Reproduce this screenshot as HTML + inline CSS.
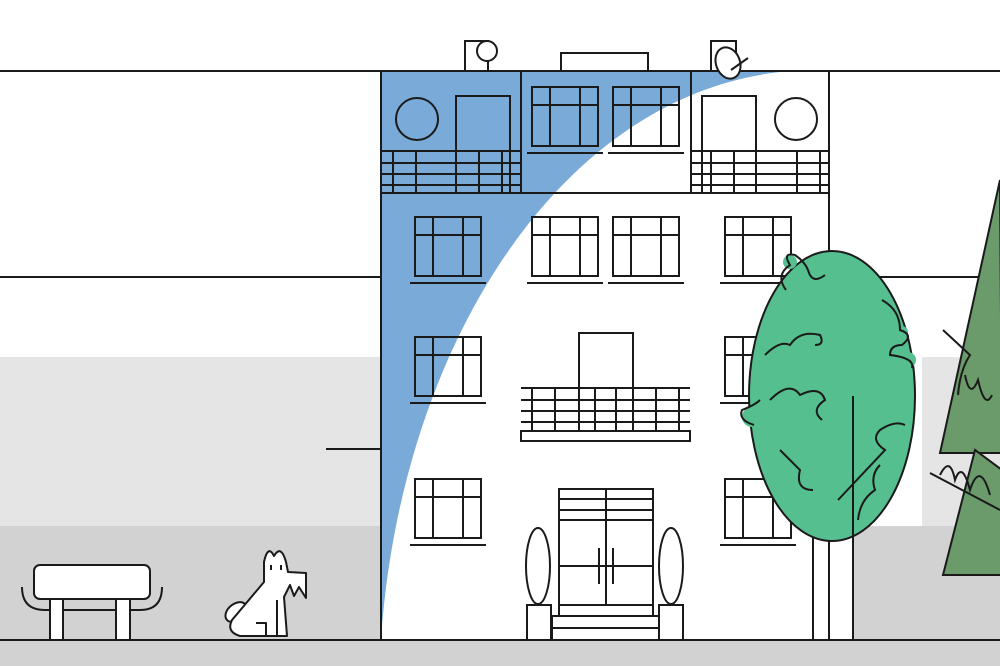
<!DOCTYPE html>
<html><head><meta charset="utf-8"><style>html,body{margin:0;padding:0;background:#fff}svg{display:block}</style></head>
<body>
<svg width="1000" height="666" viewBox="0 0 1000 666" xmlns="http://www.w3.org/2000/svg">
<rect width="1000" height="666" fill="#fff"/>
<rect x="0" y="357" width="381" height="169" fill="#e5e5e5"/>
<rect x="0" y="526" width="381" height="114" fill="#d2d2d2"/>
<rect x="922" y="357" width="78" height="169" fill="#e5e5e5"/>
<rect x="853" y="526" width="147" height="114" fill="#d2d2d2"/>
<rect x="0" y="640" width="1000" height="26" fill="#d2d2d2"/>
<g stroke="#1a1a1a" stroke-width="2" fill="none">
<line x1="0" y1="71" x2="1000" y2="71"/>
<line x1="0" y1="277" x2="381" y2="277"/>
<line x1="829" y1="277" x2="1000" y2="277"/>
<line x1="326" y1="449" x2="381" y2="449"/>
<line x1="0" y1="640" x2="1000" y2="640"/>
</g>
<rect x="381" y="71" width="448" height="569" fill="#fff"/>
<path d="M381,71 L790,71 C560,90 400,350 381,640 Z" fill="#7aaad8"/>
<g stroke="#1a1a1a" stroke-width="2" fill="none">
<rect x="381" y="71" width="448" height="569"/>
<line x1="381" y1="193" x2="829" y2="193"/>
<line x1="521" y1="71" x2="521" y2="193"/>
<line x1="691" y1="71" x2="691" y2="193"/>
<rect x="465" y="41" width="23" height="30"/>
<circle cx="487" cy="51" r="10" fill="#fff"/>
<line x1="488" y1="61" x2="488" y2="71"/>
<rect x="561" y="53" width="87" height="18"/>
<rect x="711" y="41" width="25" height="30"/>
<ellipse cx="728" cy="63" rx="12" ry="16" transform="rotate(-20 728 63)" fill="#fff"/>
<line x1="731" y1="70" x2="748" y2="58"/>
<circle cx="417" cy="119" r="21"/>
<rect x="456" y="96" width="54" height="97"/>
<line x1="381" y1="151" x2="521" y2="151"/><line x1="381" y1="163" x2="521" y2="163"/>
<line x1="381" y1="174" x2="521" y2="174"/><line x1="381" y1="185" x2="521" y2="185"/>
<line x1="393" y1="151" x2="393" y2="193"/><line x1="416" y1="151" x2="416" y2="193"/>
<line x1="479" y1="151" x2="479" y2="193"/><line x1="502" y1="151" x2="502" y2="193"/>
<rect x="702" y="96" width="54" height="97"/>
<circle cx="796" cy="119" r="21"/>
<line x1="691" y1="151" x2="829" y2="151"/><line x1="691" y1="163" x2="829" y2="163"/>
<line x1="691" y1="174" x2="829" y2="174"/><line x1="691" y1="185" x2="829" y2="185"/>
<line x1="702" y1="151" x2="702" y2="193"/><line x1="711" y1="151" x2="711" y2="193"/>
<line x1="734" y1="151" x2="734" y2="193"/><line x1="797" y1="151" x2="797" y2="193"/>
<line x1="820" y1="151" x2="820" y2="193"/>
</g>
<defs>
<g id="win" stroke="#1a1a1a" stroke-width="2" fill="none">
<rect x="0" y="0" width="66" height="59"/>
<line x1="18" y1="0" x2="18" y2="59"/><line x1="48" y1="0" x2="48" y2="59"/>
<line x1="0" y1="18" x2="66" y2="18"/>
<line x1="-5" y1="66" x2="71" y2="66"/>
</g>
</defs>
<use href="#win" x="532" y="87"/><use href="#win" x="613" y="87"/>
<use href="#win" x="415" y="217"/><use href="#win" x="532" y="217"/><use href="#win" x="613" y="217"/><use href="#win" x="725" y="217"/>
<use href="#win" x="415" y="337"/><use href="#win" x="725" y="337"/>
<use href="#win" x="415" y="479"/><use href="#win" x="725" y="479"/>
<g stroke="#1a1a1a" stroke-width="2" fill="none">
<rect x="579" y="333" width="54" height="55"/>
<line x1="521" y1="388" x2="690" y2="388"/>
<line x1="532" y1="388" x2="532" y2="431"/><line x1="555" y1="388" x2="555" y2="431"/>
<line x1="579" y1="388" x2="579" y2="431"/><line x1="595" y1="388" x2="595" y2="431"/>
<line x1="616" y1="388" x2="616" y2="431"/><line x1="633" y1="388" x2="633" y2="431"/>
<line x1="656" y1="388" x2="656" y2="431"/><line x1="679" y1="388" x2="679" y2="431"/>
<line x1="521" y1="400" x2="690" y2="400"/><line x1="521" y1="411" x2="690" y2="411"/><line x1="521" y1="422" x2="690" y2="422"/>
<rect x="521" y="431" width="169" height="10" fill="#fff"/>
<rect x="559" y="489" width="94" height="127"/>
<line x1="559" y1="499" x2="653" y2="499"/><line x1="559" y1="510" x2="653" y2="510"/><line x1="559" y1="520" x2="653" y2="520"/>
<line x1="606" y1="489" x2="606" y2="605"/>
<line x1="559" y1="566" x2="653" y2="566"/>
<line x1="559" y1="605" x2="653" y2="605"/>
<line x1="599" y1="548" x2="599" y2="584"/><line x1="613" y1="548" x2="613" y2="584"/>
<rect x="552" y="616" width="107" height="12"/><rect x="552" y="628" width="107" height="12"/>
<ellipse cx="538" cy="566" rx="12" ry="38"/><rect x="527" y="605" width="24" height="35"/>
<ellipse cx="671" cy="566" rx="12" ry="38"/><rect x="659" y="605" width="24" height="35"/>
</g>
<g stroke="#1a1a1a" stroke-width="2" fill="none">
<line x1="813" y1="490" x2="813" y2="640"/>
<line x1="853" y1="396" x2="853" y2="640"/>
</g>
<g fill="#56bf8f" stroke="#1a1a1a" stroke-width="2">
<ellipse cx="832" cy="396" rx="83" ry="145"/>
</g>
<g fill="#56bf8f" stroke="none">
<circle cx="790" cy="262" r="7"/><circle cx="752" cy="417" r="10"/><circle cx="908" cy="360" r="8"/><circle cx="902" cy="332" r="6"/>
</g>
<g stroke="#1a1a1a" stroke-width="2" fill="none">
<path d="M786,290 Q775,275 790,265 Q782,252 795,255 Q805,262 808,270 Q812,285 825,275"/>
<path d="M754,425 Q738,420 742,410 Q755,405 760,400"/>
<path d="M882,300 Q900,310 900,330 Q915,335 902,345 Q890,345 890,355 Q915,358 912,368"/>
<path d="M765,355 Q780,340 790,345 Q800,330 820,335 Q825,345 815,345"/>
<path d="M770,400 Q790,380 800,395 Q820,385 825,400 Q810,410 822,420"/>
<path d="M780,450 L800,470 Q795,490 813,490"/>
<path d="M838,500 L885,450 Q870,440 880,430 Q895,420 905,425"/>
<path d="M858,520 Q860,500 875,490 Q870,475 880,465"/>
<line x1="853" y1="396" x2="853" y2="540"/>
</g>
<g fill="#6b9a6b" stroke="#1a1a1a" stroke-width="2">
<polygon points="1000,180 940,453 1002,453"/>
<polygon points="975,450 943,575 1002,575 1002,470"/>
</g>
<g stroke="#1a1a1a" stroke-width="2" fill="none">
<path d="M943,330 L970,355 Q960,370 958,395 M965,375 Q970,400 978,380 Q985,410 992,395"/>
<path d="M930,473 L1000,510 M940,475 Q950,455 955,480 Q962,460 970,490 Q980,460 990,495"/>
</g>
<g stroke="#1a1a1a" stroke-width="2">
<path d="M22,587 Q22,610 45,610 L140,610 Q162,610 162,587" fill="none"/>
<rect x="50" y="599" width="13" height="41" fill="#fff"/>
<rect x="116" y="599" width="14" height="41" fill="#fff"/>
<rect x="34" y="565" width="116" height="34" rx="6" fill="#fff"/>
</g>
<g stroke="#1a1a1a" stroke-width="2" fill="#fff" stroke-linejoin="round">
<ellipse cx="236" cy="612" rx="12" ry="8" transform="rotate(-40 236 612)"/>
<path d="M240,636 Q226,632 232,620 L264,582 L264,562 Q268,544 274,556 Q281,544 286,562 L288,572 L306,573 L306,598 L299,587 L294,596 L290,585 L284,597 L287,636 Z"/>
<path d="M256,623 L266,623 L266,636 M277,600 L277,636" fill="none"/>
<line x1="271" y1="565" x2="271" y2="570"/><line x1="281" y1="565" x2="281" y2="570"/>
</g>
</svg>
</body></html>
